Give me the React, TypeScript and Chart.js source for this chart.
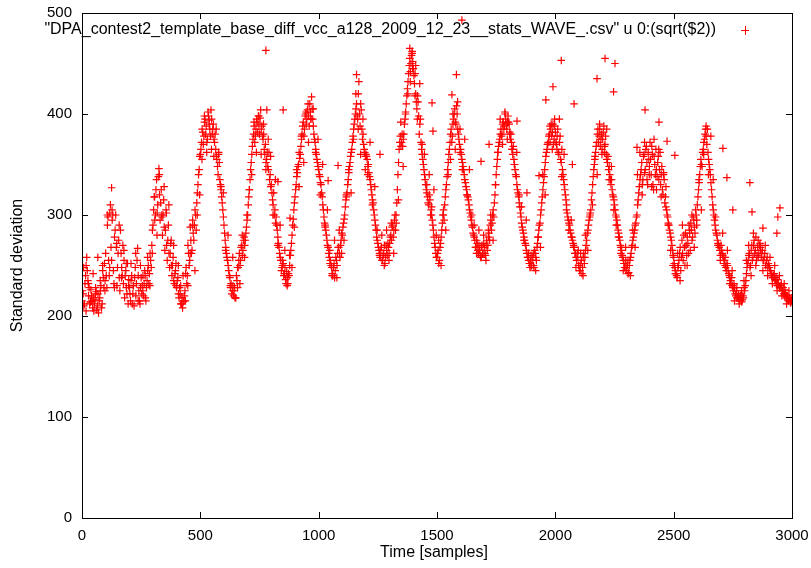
import React, { useEffect, useRef } from "react";
import { Chart, registerables } from "chart.js";

Chart.register(...registerables);

// Sample spacing of the traced series (samples)
const SAMPLE_STEP = 5;
const SCATTER_STEP = 10;

// Standard deviation, one side of the band, read every 5 samples (0 .. 2995)
const stdDevA: number[] = [
  215, 222, 212, 240, 258, 235, 228, 214, 220, 208, 205, 216, 224, 210, 203, 218, 230, 212, 238, 252,
  262, 228, 298, 240, 310, 255, 300, 232, 285, 268, 248, 275, 225, 262, 240, 232, 218, 245, 222, 212,
  228, 215, 240, 222, 210, 248, 232, 267, 225, 212, 238, 230, 220, 245, 215, 235, 250, 242, 255, 270,
  290, 318, 300, 335, 310, 346, 295, 325, 280, 315, 265, 305, 255, 290, 248, 272, 240, 258, 232, 245,
  228, 238, 218, 222, 212, 208, 215, 225, 248, 240, 262, 255, 275, 265, 282, 290, 300, 312, 330, 345,
  360, 372, 382, 378, 395, 388, 375, 398, 385, 404, 380, 390, 372, 365, 355, 340, 352, 330, 318, 305,
  290, 275, 262, 255, 245, 238, 232, 225, 220, 228, 218, 235, 248, 262, 255, 270, 265, 278, 275, 288,
  300, 318, 335, 352, 368, 380, 372, 385, 392, 398, 380, 404, 388, 375, 365, 370, 355, 348, 362, 340,
  330, 315, 322, 305, 298, 285, 272, 262, 255, 248, 252, 242, 236, 244, 232, 240, 260, 272, 290, 305,
  318, 330, 342, 350, 356, 368, 380, 392, 385, 400, 395, 410, 388, 402, 417, 395, 380, 372, 360, 352,
  345, 338, 330, 318, 305, 292, 285, 275, 268, 258, 255, 248, 240, 252, 245, 255, 262, 268, 258, 275,
  280, 292, 300, 315, 322, 335, 348, 358, 365, 378, 390, 400, 410, 395, 432, 388, 404, 375, 370, 362,
  360, 355, 350, 338, 330, 320, 312, 300, 290, 278, 272, 265, 258, 268, 255, 262, 252, 270, 260, 268,
  272, 280, 288, 278, 295, 285, 312, 340, 365, 378, 372, 368, 380, 395, 410, 425, 440, 455, 450, 462,
  445, 430, 420, 405, 412, 380, 395, 365, 355, 345, 335, 325, 318, 310, 315, 305, 295, 285, 272, 262,
  258, 265, 255, 272, 285, 300, 295, 318, 330, 345, 360, 372, 385, 378, 395, 405, 390, 400, 380, 370,
  365, 355, 348, 340, 332, 325, 318, 310, 302, 295, 288, 280, 275, 268, 272, 262, 265, 258, 270, 262,
  268, 260, 275, 270, 282, 290, 285, 300, 298, 320, 340, 355, 368, 375, 385, 380, 392, 388, 395, 385,
  398, 390, 375, 372, 360, 355, 345, 338, 325, 318, 308, 298, 288, 282, 275, 270, 262, 258, 252, 255,
  250, 258, 248, 262, 255, 272, 285, 292, 305, 318, 332, 345, 358, 365, 372, 380, 385, 378, 390, 375,
  382, 370, 385, 360, 378, 352, 345, 335, 325, 315, 302, 295, 290, 282, 278, 272, 268, 262, 255, 258,
  250, 245, 255, 248, 262, 258, 270, 282, 290, 298, 305, 322, 338, 350, 362, 372, 385, 378, 368, 380,
  375, 388, 370, 360, 352, 345, 340, 330, 325, 318, 310, 300, 295, 285, 278, 270, 265, 258, 252, 248,
  245, 250, 243, 255, 262, 270, 278, 285, 292, 300, 315, 328, 340, 352, 335, 360, 345, 368, 330, 355,
  372, 340, 360, 325, 350, 365, 338, 358, 345, 330, 348, 320, 335, 318, 305, 298, 290, 282, 275, 265,
  258, 248, 242, 238, 250, 262, 245, 275, 255, 268, 282, 260, 272, 290, 265, 285, 278, 295, 282, 300,
  310, 325, 340, 355, 348, 365, 375, 385, 370, 362, 350, 340, 325, 310, 300, 290, 282, 275, 270, 265,
  270, 262, 258, 255, 248, 252, 245, 240, 235, 238, 228, 232, 222, 225, 218, 220, 215, 222, 216, 218,
  225, 235, 248, 255, 262, 250, 270, 258, 275, 265, 255, 268, 262, 272, 258, 265, 255, 262, 250, 258,
  252, 248, 245, 240, 238, 242, 235, 232, 236, 230, 228, 232, 225, 222, 226, 218, 220, 215, 218, 213,
];

// Other side of the band, read at the half-way samples (2.5 .. 2997.5)
const stdDevB: number[] = [
  225, 210, 232, 250, 245, 220, 212, 226, 215, 218, 212, 228, 206, 222, 215, 225, 208, 245, 228, 235,
  240, 290, 255, 302, 268, 295, 245, 278, 300, 230, 262, 238, 285, 248, 270, 255, 240, 228, 252, 236,
  222, 235, 212, 230, 238, 220, 255, 240, 215, 228, 222, 240, 232, 218, 228, 245, 232, 262, 248, 285,
  305, 295, 325, 302, 338, 320, 312, 298, 300, 288, 285, 270, 275, 262, 262, 250, 250, 235, 242, 230,
  235, 222, 228, 212, 218, 214, 220, 242, 232, 270, 250, 288, 262, 295, 275, 305, 285, 322, 340, 358,
  365, 385, 370, 392, 380, 372, 402, 390, 378, 395, 385, 375, 380, 358, 348, 362, 335, 325, 312, 298,
  282, 268, 258, 250, 240, 228, 222, 230, 225, 218, 240, 228, 255, 250, 268, 260, 275, 270, 282, 295,
  310, 325, 345, 360, 375, 388, 378, 395, 382, 390, 396, 385, 378, 380, 360, 352, 362, 345, 335, 328,
  322, 310, 300, 292, 290, 278, 268, 258, 245, 255, 240, 248, 232, 238, 242, 250, 265, 280, 296, 312,
  325, 338, 348, 362, 360, 375, 388, 378, 398, 390, 404, 398, 410, 395, 405, 388, 375, 365, 355, 348,
  340, 332, 322, 310, 298, 288, 280, 270, 262, 252, 250, 242, 248, 238, 258, 250, 268, 262, 270, 282,
  288, 296, 308, 318, 330, 342, 352, 362, 372, 385, 395, 405, 398, 420, 400, 410, 385, 380, 365, 358,
  358, 348, 342, 335, 325, 315, 305, 295, 285, 275, 268, 262, 265, 255, 260, 270, 258, 265, 272, 262,
  278, 275, 290, 285, 300, 292, 325, 352, 372, 368, 380, 375, 390, 402, 418, 432, 448, 442, 458, 452,
  438, 440, 412, 418, 398, 390, 372, 360, 350, 340, 330, 322, 312, 320, 300, 308, 290, 278, 268, 258,
  262, 252, 268, 278, 292, 305, 310, 325, 338, 352, 365, 380, 372, 390, 400, 392, 408, 385, 375, 362,
  360, 352, 345, 335, 328, 320, 315, 305, 298, 290, 282, 278, 268, 275, 265, 270, 260, 268, 262, 272,
  262, 270, 265, 278, 275, 295, 292, 305, 312, 330, 348, 362, 372, 380, 378, 390, 385, 400, 390, 392,
  392, 382, 380, 365, 368, 350, 340, 330, 322, 312, 302, 292, 285, 278, 272, 265, 258, 255, 248, 260,
  255, 250, 265, 258, 268, 278, 290, 300, 312, 325, 338, 352, 362, 370, 378, 372, 390, 382, 370, 388,
  372, 378, 362, 372, 355, 365, 340, 330, 320, 310, 298, 292, 285, 278, 275, 270, 262, 258, 262, 250,
  245, 252, 242, 258, 252, 265, 275, 285, 295, 302, 315, 330, 345, 358, 368, 380, 372, 385, 375, 365,
  382, 368, 378, 355, 358, 348, 335, 335, 320, 315, 305, 298, 290, 282, 275, 268, 260, 255, 248, 255,
  250, 242, 250, 258, 268, 275, 282, 290, 298, 310, 322, 335, 345, 330, 358, 342, 365, 335, 362, 348,
  355, 368, 330, 358, 340, 325, 352, 335, 362, 340, 325, 342, 312, 328, 300, 292, 285, 278, 270, 260,
  252, 245, 240, 248, 255, 268, 258, 262, 280, 250, 270, 278, 262, 282, 292, 275, 298, 288, 305, 295,
  318, 332, 348, 350, 362, 372, 380, 378, 385, 355, 345, 332, 318, 305, 295, 285, 280, 272, 268, 260,
  265, 260, 252, 258, 245, 250, 242, 238, 232, 230, 225, 228, 220, 218, 222, 216, 220, 214, 220, 228,
  230, 242, 252, 260, 248, 265, 255, 270, 262, 278, 260, 258, 270, 265, 262, 255, 258, 250, 255, 248,
  250, 245, 242, 238, 240, 236, 238, 230, 232, 228, 230, 225, 228, 220, 222, 220, 216, 218, 214, 215,
];

// Scattered points around the band, read every 10 samples (7 .. 2997)
const stdDevC: number[] = [
  248, 205, 232, 214, 242, 222, 258, 235, 250, 225,
  300, 248, 305, 228, 272, 290, 238, 265, 252, 230,
  252, 230, 262, 215, 250, 225, 240, 258, 230, 262,
  318, 280, 340, 300, 328, 302, 310, 275, 270, 252,
  250, 230, 240, 215, 230, 262, 290, 245, 300, 320,
  355, 398, 362, 394, 365, 358, 385, 360, 328, 322,
  265, 280, 230, 258, 218, 248, 232, 280, 258, 300,
  325, 340, 392, 362, 398, 360, 390, 345, 375, 358,
  300, 335, 270, 290, 250, 265, 230, 260, 248, 288,
  345, 328, 378, 352, 402, 372, 395, 405, 362, 375,
  320, 350, 290, 305, 265, 240, 275, 238, 285, 262,
  275, 320, 345, 322, 375, 420, 385, 360, 395, 345,
  340, 372, 310, 328, 285, 260, 280, 250, 285, 255,
  292, 262, 300, 315, 392, 348, 400, 420, 432, 445,
  418, 395, 430, 370, 360, 330, 340, 300, 325, 280,
  275, 250, 300, 285, 340, 355, 400, 365, 412, 385,
  345, 375, 320, 345, 300, 290, 262, 285, 258, 280,
  255, 285, 300, 275, 330, 362, 395, 370, 402, 375,
  380, 365, 350, 362, 320, 308, 275, 295, 262, 248,
  262, 245, 278, 268, 340, 320, 370, 388, 365, 395,
  365, 395, 338, 360, 305, 285, 295, 268, 248, 265,
  262, 240, 280, 265, 300, 310, 355, 340, 390, 360,
  362, 385, 335, 348, 305, 290, 278, 262, 245, 268,
  255, 240, 285, 268, 340, 362, 320, 372, 352, 340,
  328, 375, 345, 365, 318, 340, 308, 290, 265, 250,
  242, 262, 235, 290, 268, 250, 285, 300, 268, 290,
  335, 305, 360, 388, 340, 378, 335, 298, 270, 255,
  282, 250, 265, 232, 245, 215, 228, 212, 225, 235,
  255, 270, 240, 282, 250, 275, 268, 245, 270, 240,
  258, 232, 250, 225, 240, 220, 232, 212, 225, 218,
];

// Isolated points
const outlierSamples: number[] = [
  125, 777, 781, 850, 828, 879, 1040, 1082, 1160, 1259, 1385, 1395, 1410, 1479, 1483,
  1563, 1582, 1605, 1686, 1720, 1838, 1880, 1931, 1960, 1990, 2025, 2079, 2072, 2176,
  2210, 2252, 2246, 2345, 2379, 2438, 2472, 2505, 2708, 2725, 2750, 2822, 2831, 2877,
  2940, 2949, 2936,
];
const outlierValues: number[] = [
  327, 463, 404, 404, 333, 297, 334, 349, 439, 360, 465, 460, 448, 411, 383,
  419, 439, 493, 353, 370, 393, 322, 339, 414, 427, 453, 410, 350, 435,
  455, 450, 422, 367, 404, 392, 373, 359, 366, 337, 305, 332, 303, 287,
  298, 307, 282,
];

const xTicks: number[] = [0, 500, 1000, 1500, 2000, 2500, 3000];
const yTicks: number[] = [0, 100, 200, 300, 400, 500];

const xTitle = "Time [samples]";
const yTitle = "Standard deviation";
const legendLabel =
  '"DPA_contest2_template_base_diff_vcc_a128_2009_12_23__stats_WAVE_.csv" u 0:(sqrt($2))';

const FONT = "'Liberation Sans', Arial, Helvetica, sans-serif";
const RED = "#ff0000";

const framePlugin = {
  id: "gnuplotFrame",
  afterDraw(chart: any) {
    const { ctx, chartArea, scales } = chart;
    const { left, right, top, bottom } = chartArea;
    ctx.save();
    ctx.strokeStyle = "#000";
    ctx.lineWidth = 1;
    const tl = 6;
    ctx.beginPath();
    for (const t of xTicks) {
      const px = Math.round(scales.x.getPixelForValue(t)) + 0.5;
      ctx.moveTo(px, bottom);
      ctx.lineTo(px, bottom - tl);
      ctx.moveTo(px, top);
      ctx.lineTo(px, top + tl);
    }
    for (const t of yTicks) {
      const py = Math.round(scales.y.getPixelForValue(t)) + 0.5;
      ctx.moveTo(left, py);
      ctx.lineTo(left + tl, py);
      ctx.moveTo(right, py);
      ctx.lineTo(right - tl, py);
    }
    ctx.stroke();
    ctx.strokeRect(Math.round(left) + 0.5, Math.round(top) + 0.5, Math.round(right - left), Math.round(bottom - top));

    ctx.fillStyle = "#000";
    ctx.font = `16px ${FONT}`;
    ctx.textAlign = "center";
    ctx.textBaseline = "middle";
    ctx.fillText(xTitle, (left + right) / 2 - 3, 553);
    ctx.save();
    ctx.translate(18, (top + bottom) / 2);
    ctx.rotate(-Math.PI / 2);
    ctx.fillText(yTitle, 0, 0);
    ctx.restore();

    ctx.textAlign = "right";
    ctx.fillText(legendLabel, 716, 30);
    ctx.strokeStyle = RED;
    ctx.beginPath();
    ctx.moveTo(741, 30.5);
    ctx.lineTo(749, 30.5);
    ctx.moveTo(745.5, 26);
    ctx.lineTo(745.5, 35);
    ctx.stroke();
    ctx.restore();
  },
};

export default function App() {
  const canvasRef = useRef<HTMLCanvasElement | null>(null);

  useEffect(() => {
    if (!canvasRef.current) return;
    const points = stdDevA
      .map((v, i) => ({ x: i * SAMPLE_STEP, y: v }))
      .concat(stdDevB.map((v, i) => ({ x: i * SAMPLE_STEP + SAMPLE_STEP / 2, y: v })))
      .concat(stdDevC.map((v, i) => ({ x: i * SCATTER_STEP + 7, y: v })))
      .concat(outlierSamples.map((s, i) => ({ x: s, y: outlierValues[i] })));

    const chart = new Chart(canvasRef.current, {
      type: "scatter",
      data: {
        datasets: [
          {
            label: legendLabel,
            data: points,
            pointStyle: "cross",
            pointRadius: 3.8,
            pointHoverRadius: 3.8,
            borderColor: RED,
            backgroundColor: RED,
            pointBorderWidth: 1.2,
            borderWidth: 1.2,
            showLine: false,
          },
        ],
      },
      options: {
        responsive: false,
        animation: false,
        events: [],
        layout: { padding: { top: 13, right: 19, left: 0, bottom: 0 } },
        plugins: {
          legend: { display: false },
          tooltip: { enabled: false },
        },
        scales: {
          x: {
            type: "linear",
            min: 0,
            max: 3000,
            afterFit: (s: any) => {
              s.height = 50;
              s.paddingLeft = 0;
              s.paddingRight = 0;
            },
            afterBuildTicks: (s: any) => {
              s.ticks = xTicks.map((v) => ({ value: v }));
            },
            ticks: {
              color: "#000",
              font: { family: FONT, size: 15 },
              padding: 9,
              maxRotation: 0,
              autoSkip: false,
              callback: (v: any) => String(v),
            },
            grid: { display: false, drawTicks: false },
            border: { display: false },
          },
          y: {
            type: "linear",
            min: 0,
            max: 500,
            afterFit: (s: any) => {
              s.width = 82;
              s.paddingTop = 0;
              s.paddingBottom = 0;
            },
            afterBuildTicks: (s: any) => {
              s.ticks = yTicks.map((v) => ({ value: v }));
            },
            ticks: {
              color: "#000",
              font: { family: FONT, size: 15 },
              padding: 10,
              autoSkip: false,
              callback: (v: any) => String(v),
            },
            grid: { display: false, drawTicks: false },
            border: { display: false },
          },
        },
      },
      plugins: [framePlugin],
    });
    return () => chart.destroy();
  }, []);

  return (
    <div style={{ position: "absolute", left: 0, top: 0, width: 811, height: 568, background: "#fff" }}>
      <canvas ref={canvasRef} width={811} height={568} style={{ width: 811, height: 568, display: "block" }} />
    </div>
  );
}
